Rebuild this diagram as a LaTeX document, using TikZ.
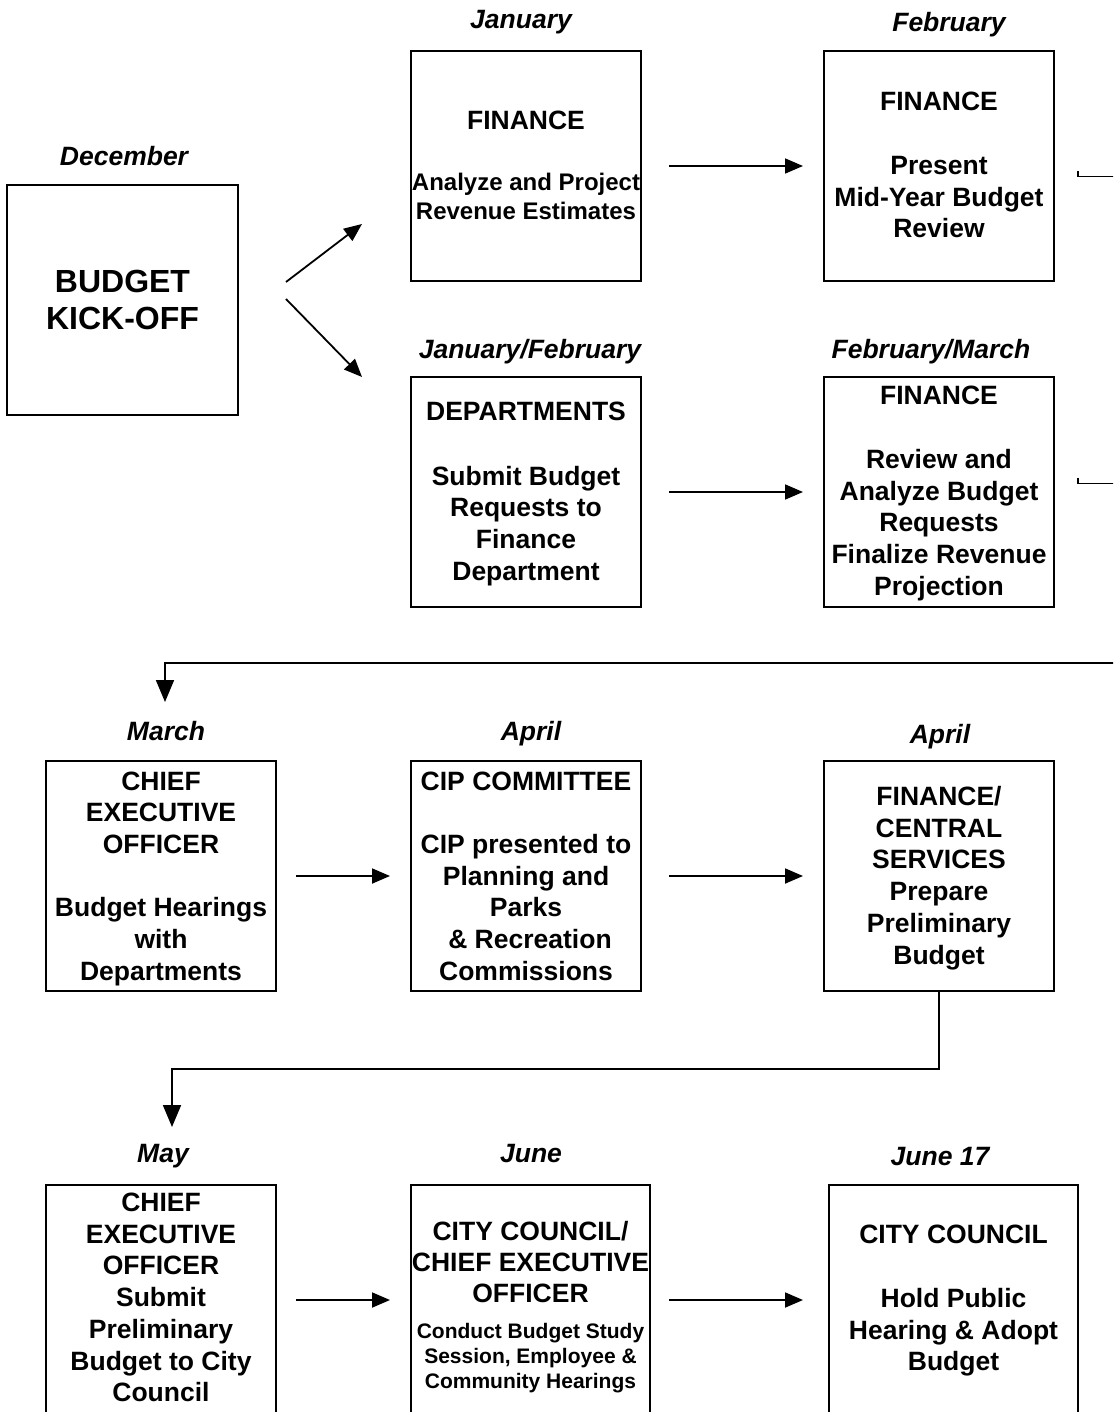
\documentclass[tikz,border=0pt]{standalone}
\usepackage{fontspec}
\setmainfont{Liberation Sans}
\usetikzlibrary{arrows.meta}
\newcommand{\stk}[6]{\foreach \t [count=\i from 0] in {#6}{\node[#1, anchor=base] (#2\i) at (#3,{#4+\i*#5}) {\t};}}
\begin{document}
\begin{tikzpicture}[x=1pt,y=-1pt,
 box/.style={draw, line width=1.8pt, minimum width=230pt, minimum height=230pt, inner sep=0pt, outer sep=0pt},
 txt/.style={font=\fontsize{26.5}{32}\selectfont\bfseries, inner sep=0pt},
 mtxt/.style={font=\fontsize{24}{29}\selectfont\bfseries, inner sep=0pt},
 stxt/.style={font=\fontsize{21}{25}\selectfont\bfseries, inner sep=0pt},
 btxt/.style={font=\fontsize{32}{38}\selectfont\bfseries, inner sep=0pt},
 mon/.style={font=\fontsize{26.5}{32}\selectfont\bfseries\itshape, inner sep=0pt, anchor=base},
 arr/.style={line width=1.8pt, -{Triangle[length=18pt,width=15pt]}},
 darr/.style={line width=1.8pt, -{Triangle[length=22pt,width=18pt]}},
 ln/.style={line width=1.8pt}]
\useasboundingbox (0,0) rectangle (1113,1412);
\fill[white] (0,0) rectangle (1113,1412);
\clip (0,0) rectangle (1113,1412);

% month labels
\node[mon] (lDec) at (124,166) {December};
\node[mon] (lJan) at (521,28.5) {January};
\node[mon] (lFeb) at (949,31.5) {February};
\node[mon] (lJF) at (530,358) {January/February};
\node[mon] (lFM) at (931,358) {February/March};
\node[mon] (lMar) at (166,740) {March};
\node[mon] (lApr1) at (531,740) {April};
\node[mon] (lApr2) at (940,743) {April};
\node[mon] (lMay) at (163,1162) {May};
\node[mon] (lJun) at (531,1162) {June};
\node[mon] (lJ17) at (940,1165) {June 17};

% boxes
\node[box, minimum width=231pt] (kick) at (122.5,300) {};
\node[box] (jan) at (526,166) {};
\node[box] (feb) at (939,166) {};
\node[box] (dep) at (526,492) {};
\node[box] (fm) at (939,492) {};
\node[box] (mar) at (161,876) {};
\node[box] (cip) at (526,876) {};
\node[box] (fin) at (939,876) {};
\node[box] (may) at (161,1300) {};
\node[box, minimum width=239pt] (jun) at (530.5,1300) {};
\node[box, minimum width=249pt] (j17) at (953.5,1300) {};

% texts
\stk{btxt}{tk}{122.5}{293}{37}{BUDGET,KICK-OFF}
\stk{txt}{tja}{526}{130}{0}{FINANCE}
\stk{mtxt}{tjb}{526}{190.7}{28.7}{Analyze and Project,Revenue Estimates}
\stk{txt}{tfa}{939}{111}{0}{FINANCE}
\stk{txt}{tfb}{939}{175}{31.2}{Present,Mid-Year Budget,Review}
\stk{txt}{tda}{526}{420.7}{0}{DEPARTMENTS}
\stk{txt}{tdb}{526}{485}{31.7}{Submit Budget,Requests to,Finance,Department}
\stk{txt}{tma}{939}{404}{0}{FINANCE}
\stk{txt}{tmb}{939}{468.3}{31.7}{Review and,Analyze Budget,Requests,Finalize Revenue,Projection}
\stk{txt}{tca}{161}{790}{31.7}{CHIEF,EXECUTIVE,OFFICER}
\stk{txt}{tcb}{161}{916.7}{31.7}{Budget Hearings,with,Departments}
\stk{txt}{tpa}{526}{790}{0}{CIP COMMITTEE}
\stk{txt}{tpb}{526}{853.3}{31.7}{CIP presented to,Planning and,Parks}
\stk{txt}{tpc}{530}{948.3}{31.7}{\& Recreation}
\stk{txt}{tpd}{526}{980}{31.7}{Commissions}
\stk{txt}{tfs}{939}{805.5}{31.7}{FINANCE/,CENTRAL,SERVICES,Prepare,Preliminary,Budget}
\stk{txt}{tmy}{161}{1211.5}{31.7}{CHIEF,EXECUTIVE,OFFICER,Submit,Preliminary,Budget to City,Council}
\stk{txt}{tua}{530.5}{1240}{31}{CITY COUNCIL/,CHIEF EXECUTIVE,OFFICER}
\stk{stxt}{tub}{530.5}{1338.3}{25}{Conduct Budget Study,{Session, Employee \&},Community Hearings}
\stk{txt}{tka}{953.5}{1243.5}{0}{CITY COUNCIL}
\stk{txt}{tkb}{953.5}{1307.5}{31.7}{Hold Public,Hearing \& Adopt,Budget}

% connectors
\coordinate (k1s) at (286,282); \coordinate (k1e) at (362,224);
\coordinate (k2s) at (286,299); \coordinate (k2e) at (362,377);
\draw[arr] (k1s) -- (k1e);
\draw[arr] (k2s) -- (k2e);
\draw[arr, shorten <=28pt, shorten >=21pt] (jan) -- (feb);
\draw[arr, shorten <=28pt, shorten >=21pt] (dep) -- (fm);
\draw[arr, shorten <=20pt, shorten >=21pt] (mar) -- (cip);
\draw[arr, shorten <=28pt, shorten >=21pt] (cip) -- (fin);
\draw[arr, shorten <=20pt, shorten >=21pt] (may) -- (jun);
\draw[arr, shorten <=19pt, shorten >=26pt] (jun) -- (j17);

\coordinate (s1a) at (1078,171.5); \coordinate (s1b) at (1120,176.5);
\draw[ln] (s1a) |- (s1b);
\coordinate (s2a) at (1078,477.5); \coordinate (s2b) at (1120,483.5);
\draw[ln] (s2a) |- (s2b);

\coordinate (c1s) at (1120,663); \coordinate (c1e) at (165,702);
\draw[darr] (c1s) -| (c1e);
\coordinate (c2m) at (172,1069); \coordinate (c2e) at (172,1127);
\draw[darr] (fin.south) |- (c2m) -- (c2e);
\end{tikzpicture}
\end{document}
